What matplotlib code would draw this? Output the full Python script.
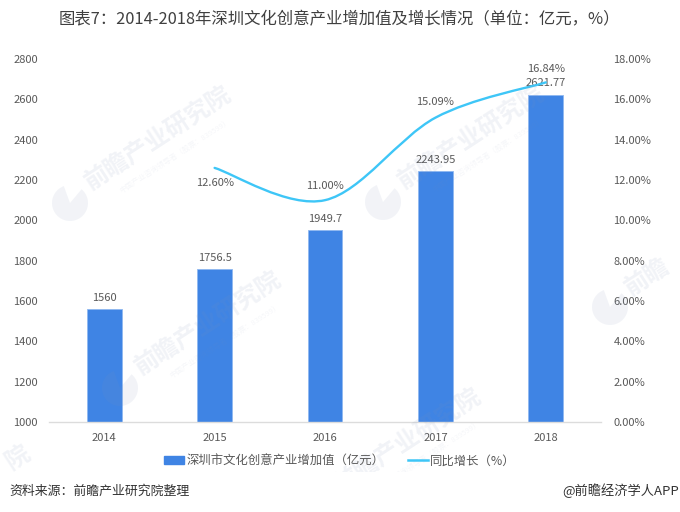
import matplotlib
matplotlib.use('Agg')
import matplotlib.pyplot as plt
from matplotlib.path import Path
from matplotlib.patches import PathPatch, Patch, Wedge, Rectangle
from matplotlib.lines import Line2D
from matplotlib.transforms import Affine2D

plt.rcParams['font.family'] = ['Noto Sans CJK SC', 'DejaVu Sans']

years = ['2014', '2015', '2016', '2017', '2018']
values = [1560, 1756.5, 1949.7, 2243.95, 2621.77]
value_labels = ['1560', '1756.5', '1949.7', '2243.95', '2621.77']
growth_years = [1, 2, 3, 4]
growth = [12.60, 11.00, 15.09, 16.84]
growth_labels = ['12.60%', '11.00%', '15.09%', '16.84%']
left_ticks = [1000, 1200, 1400, 1600, 1800, 2000, 2200, 2400, 2600, 2800]
right_ticks = [0, 2, 4, 6, 8, 10, 12, 14, 16, 18]
title = '图表7：2014-2018年深圳文化创意产业增加值及增长情况（单位：亿元，%）'
bar_name = '深圳市文化创意产业增加值（亿元）'
line_name = '同比增长（%）'
source = '资料来源：前瞻产业研究院整理'
brand = '@前瞻经济学人APP'
watermark = '前瞻产业研究院'
watermark_sub = '中国产业咨询领导者（股票：839599）'

W, H = 680, 512
fig = plt.figure(figsize=(W / 100, H / 100), dpi=100, facecolor='white')
ax = fig.add_axes([49 / W, 1 - 422 / H, 552 / W, 363 / H])
ax2 = ax.twinx()
ax.set_zorder(1)
ax2.set_zorder(2)
ax.patch.set_visible(False)
ax2.patch.set_visible(False)

TXT = '#595959'
BAR = '#3f84e4'
LINE = '#3ec6f7'

x = list(range(len(years)))
ax.bar(x, values, width=0.317, color=BAR, edgecolor='#8fb8f0', linewidth=0.6, zorder=2)
ax.set_xlim(-0.5, 4.5)
ax.set_ylim(1000, 2800)
ax.set_yticks(left_ticks)
ax.set_xticks(x, years)
ax.tick_params(axis='both', length=0, labelsize=8, labelcolor=TXT)
ax.tick_params(axis='x', pad=8)
ax.tick_params(axis='y', pad=8)

ax2.set_ylim(0, 18)
ax2.set_yticks(right_ticks, [f'{v:.2f}%' for v in right_ticks])
ax2.tick_params(axis='y', length=0, labelsize=8, labelcolor=TXT, pad=9)

for a in (ax, ax2):
    for s in a.spines.values():
        s.set_visible(False)
ax.spines['bottom'].set_visible(True)
ax.spines['bottom'].set_color('#dcdcdc')
ax.spines['bottom'].set_linewidth(1.0)

# smooth curve through the growth values (Catmull-Rom as Bezier)
pts = list(zip(growth_years, growth))
verts = [pts[0]]
codes = [Path.MOVETO]
for i in range(len(pts) - 1):
    p0 = pts[max(i - 1, 0)]
    p1 = pts[i]
    p2 = pts[i + 1]
    p3 = pts[min(i + 2, len(pts) - 1)]
    c1 = (p1[0] + (p2[0] - p0[0]) / 6, p1[1] + (p2[1] - p0[1]) / 6)
    c2 = (p2[0] - (p3[0] - p1[0]) / 6, p2[1] - (p3[1] - p1[1]) / 6)
    verts += [c1, c2, p2]
    codes += [Path.CURVE4] * 3
ax2.set_xlim(-0.5, 4.5)
ax2.add_patch(PathPatch(Path(verts, codes), fill=False, edgecolor=LINE, linewidth=1.7, zorder=3, capstyle='round'))

# data labels
for xi, v, lab in zip(x, values, value_labels):
    ax.annotate(lab, (xi, v), xytext=(0, 8.3), textcoords='offset points', ha='center', va='center',
                fontsize=8, color=TXT, zorder=5)
line_off = [-11, 10, 11, 10]
for gx, g, lab, off in zip(growth_years, growth, growth_labels, line_off):
    ax2.annotate(lab, (gx, g), xytext=(0, off), textcoords='offset points', ha='center', va='center',
                 fontsize=8, color=TXT, zorder=5)

# faint watermarks, positioned in pixels from the top-left corner
px = Affine2D().scale(1, -1).translate(0, H)
MARK = '#8093b8'
clip = Rectangle((0, 0), W, 472, transform=px)


def wm_text(cx, cy, s, fs, weight='bold', alpha=0.11):
    t = fig.text(cx / W, 1 - cy / H, s, fontsize=fs, rotation=33, color=MARK, alpha=alpha,
                 ha='center', va='center', rotation_mode='anchor', fontweight=weight, zorder=3)
    t.set_clip_path(clip)
    t.set_clip_on(True)


def wm_logo(lx, ly):
    w = Wedge((lx, ly), 18, 310, 250, facecolor=MARK, edgecolor='none', alpha=0.1, transform=px, zorder=3)
    fig.add_artist(w)


for lx, ly in [(70, 203), (120, 388), (383, 202), (320, 505)]:
    wm_text(lx + 88, ly - 65, watermark, 17.5)
    wm_text(lx + 105, ly - 47, watermark_sub, 5.4, 'normal', 0.08)
for lx, ly in [(70, 203), (120, 388), (383, 202), (610, 307)]:
    wm_logo(lx, ly)
wm_text(647, 277, watermark[:2], 17.5)
wm_text(18, 458, watermark[-1], 17.5)

# title and footer
fig.text(339 / W, 1 - 20 / H, title, fontsize=11.8, color='#404040', ha='center', va='center')
fig.text(9 / W, 1 - 491 / H, source, fontsize=9.3, color='#333333', ha='left', va='center', style='italic')
fig.text(679 / W, 1 - 491 / H, brand, fontsize=9.5, color='#333333', ha='right', va='center')

handles = [Patch(facecolor=BAR, edgecolor=BAR), Line2D([0], [0], color=LINE, linewidth=1.8)]
fig.legend(handles, [bar_name, line_name], loc='center', bbox_to_anchor=(340 / W, 1 - 461 / H), ncol=2,
           frameon=False, fontsize=8.9, labelcolor=TXT, handlelength=1.6, handleheight=0.6,
           columnspacing=1.9, handletextpad=0.2)

fig.savefig('out.png', dpi=100)
